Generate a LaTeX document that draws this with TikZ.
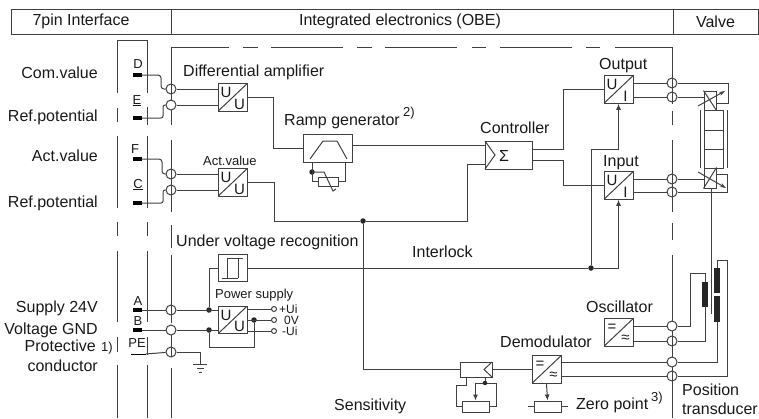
\documentclass[tikz,border=0pt]{standalone}
\usepackage{fontspec}
\setmainfont{Liberation Sans}
\usetikzlibrary{
	positioning,
	arrows.meta
}
\tikzset{
	wire/.style={line width=1pt,color=black!75},
	lab/.style={inner sep=0pt,text=black!90,font=\fontsize{16}{16}\selectfont},
	small/.style={inner sep=0pt,text=black!90,font=\fontsize{13}{13}\selectfont},
	tiny/.style={inner sep=0pt,text=black!90,font=\fontsize{12}{12}\selectfont},
	cell/.style={draw,wire,text=black!90,minimum height=25pt,inner sep=0pt,font=\fontsize{16}{16}\selectfont},
	block/.style={draw,wire,inner sep=0pt},
	conv/.style 2 args={block,minimum width=29pt,minimum height=27.5pt,path picture={
		\draw[wire] (path picture bounding box.south west) -- (path picture bounding box.north east);
		\node[small,font=\fontsize{15}{15}\selectfont] at ([shift={(-6.5,-5)}]path picture bounding box.center) {#1};
		\node[small,font=\fontsize{15}{15}\selectfont] at ([shift={(7,6.5)}]path picture bounding box.center) {#2};
	}},
	pinblock/.style={fill=black,minimum width=9pt,minimum height=4pt,inner sep=0pt},
	ring/.style={draw,wire,circle,minimum size=10pt,inner sep=0pt},
	ringopen/.style={ring,fill=white},
	term/.style={draw,wire,circle,fill=white,minimum size=5pt,inner sep=0pt},
	jdot/.style={fill=black!85,circle,minimum size=5.5pt,inner sep=0pt},
	coil/.style={fill=black!85,draw=black!85,inner sep=0pt,minimum width=5pt},
	sense/.style={-{Latex[length=6pt,width=5pt]}}
}
\begin{document}
\begin{tikzpicture}[x=1pt,y=-1pt]
	\useasboundingbox (0,0) rectangle (759,418);

	\node[cell,minimum width=160pt] (hPin)   at (91,21.5)    {7pin Interface\kern20pt};
	\node[cell,minimum width=502pt] (hObe)   at (422,21.5)   {Integrated electronics (OBE)\kern44pt};
	\node[cell,minimum width=85pt]  (hValve) at (715.5,21.5) {Valve};

	\draw[wire] (117,93) -- (117,40) -- (147,40) -- (147,93);
	\draw[wire] (171,125) -- (171,47) -- (229,47);
	\draw[wire] (615,47) -- (672,47) -- (672,104);
	\foreach \a/\b in {108/122,136/208,222/236,251/322,337/352,365/418}
		\draw[wire] (117,\a) -- (117,\b);
	\foreach \a/\b in {107/125,136/208,222/236,251/322,337/355,365/418}
		\draw[wire] (147,\a) -- (147,\b);
	\foreach \a/\b in {140/212,225/248,255/323,335/357,368/418}
		\draw[wire] (171,\a) -- (171,\b);
	\foreach \a/\b in {111/125,140/212,223/240,255/418}
		\draw[wire] (672,\a) -- (672,\b);
	\foreach \a/\b in {243/258,271/343,357/372,385/457,472/486,500/572,586/600}
		\draw[wire] (\a,47) -- (\b,47);

	\node[pinblock]                     (pD) at (137,75)  {};
	\node[pinblock]                     (pE) at (137,118) {};
	\node[pinblock]                     (pF) at (137,159) {};
	\node[pinblock]                     (pC) at (137,203) {};
	\node[pinblock]                     (pA) at (137,310) {};
	\node[pinblock]                     (pB) at (137,330) {};
	\node[pinblock,minimum width=15pt,minimum height=1pt] (pPE) at (138,354) {};

	\node[ring]     (cD)  at (171,89)  {};
	\node[ringopen] (cE)  at (171,105) {};
	\node[ring]     (cF)  at (171,174) {};
	\node[ring]     (cC)  at (171,190) {};
	\node[ring]     (cA)  at (171,310) {};
	\node[ringopen] (cB)  at (171,330) {};
	\node[ring]     (cPE) at (171,352) {};
	\node[ring]     (cOutA) at (672,83)  {};
	\node[ring]     (cOutB) at (672,97)  {};
	\node[ring]     (cInA)  at (672,179) {};
	\node[ring]     (cInB)  at (672,192) {};
	\node[ringopen] (cOscA) at (672,326) {};
	\node[ring]     (cOscB) at (672,341) {};
	\node[ringopen] (cDemA) at (672,362) {};
	\node[ring]     (cDemB) at (672,376) {};

	\node[conv={U}{U}]   (amp)   at (232.5,97.5)  {};
	\node[conv={U}{U}]   (act)   at (232.5,182.5) {};
	\node[conv={U}{U}]   (power) at (232.5,320)   {};
	\node[conv={U}{I}]   (out)   at (618.5,89.5)  {};
	\node[conv={U}{I}]   (in)    at (618.5,185.5) {};
	\node[conv={=}{≈}]   (osc)   at (618.5,332.5) {};
	\node[conv={=}{≈}]   (demod) at (546.5,369.5) {};
	\node[block,minimum width=29pt,minimum height=27.5pt] (uv)   at (232.5,268)   {};
	\node[block,minimum width=49pt,minimum height=28pt]   (ramp) at (327.5,148)   {};
	\node[block,minimum width=47pt,minimum height=28pt]   (ctrl) at (508.5,155)   {};
	\node[block,minimum width=32pt,minimum height=15pt]   (sens) at (476,369.5)   {};
	\node[block,minimum width=20pt,minimum height=9pt]    (rRamp) at (328,181.5)  {};
	\node[block,minimum width=27pt,minimum height=11pt]   (rSens) at (475.5,406.5) {};
	\node[block,minimum width=27pt,minimum height=11pt]   (rZero) at (547.5,406.5) {};

	\node[jdot] (dRamp)  at (312,172)  {};
	\node[jdot] (dSplit) at (363,221)  {};
	\node[jdot] (dLock)  at (591,268)  {};
	\node[jdot] (dPowA)  at (209,310)  {};
	\node[jdot] (dPowB)  at (209,330)  {};
	\node[jdot] (dOut)   at (254,320)  {};
	\node[jdot,minimum size=4.5pt] (dSens) at (485,383) {};
	\node[term] (oA) at (274,309) {};
	\node[term] (oB) at (274,320) {};
	\node[term] (oC) at (274,331) {};
	\coordinate (gnd) at (200,364);

	\node[block,minimum width=12pt,minimum height=19pt] (solA)  at (710,100.5) {};
	\node[block,minimum width=19pt,minimum height=20pt] (bodyA) at (713.5,120) {};
	\node[block,minimum width=19pt,minimum height=19pt] (bodyB) at (713.5,139.5) {};
	\node[block,minimum width=19pt,minimum height=19pt] (bodyC) at (713.5,158.5) {};
	\node[block,minimum width=12pt,minimum height=20pt] (solB)  at (710,178)   {};
	\node[coil,minimum height=24pt] (coilA) at (705,294)   {};
	\node[coil,minimum height=24pt] (coilB) at (717,280)   {};
	\node[coil,minimum height=25pt] (coilC) at (717,308.5) {};

	\draw[wire,rounded corners=3pt] (pD) -- ++(24,0) -- ++(0,14) -- (cD);
	\draw[wire,rounded corners=2pt] (pE) -- ++(26,0) -- ++(0,-13) -- (cE);
	\draw[wire,rounded corners=3pt] (pF) -- ++(25,0) -- ++(0,15) -- (cF);
	\draw[wire,rounded corners=2pt] (pC) -- ++(26,0) -- ++(0,-13) -- (cC);
	\draw[wire] (pA) -- (cA);
	\draw[wire] (pB) -- (cB);
	\draw[wire] (pPE.east) -- (cPE);
	\draw[wire] (cD)  -- (cD -| amp.west);
	\draw[wire] (cE)  -- (cE -| amp.west);
	\draw[wire] (cF)  -- (cF -| act.west);
	\draw[wire] (cC)  -- (cC -| act.west);
	\draw[wire] (cA)  -- (cA -| power.west);
	\draw[wire] (cB)  -- (cB -| power.west);
	\draw[wire] (cPE) -- ++(29,0) -- (gnd);
	\draw[wire] ([xshift=-7pt]gnd) -- ([xshift=7pt]gnd);
	\draw[wire] ([shift={(-3.5,4)}]gnd) -- ([shift={(3.5,4)}]gnd);
	\draw[wire] ([shift={(-1.5,8)}]gnd) -- ([shift={(1.5,8)}]gnd);

	\draw[wire] (amp.east) -- ++(26,0) |- (ramp.west);
	\draw[wire] ([yshift=3pt]ramp.east) -- ([yshift=10pt]ctrl.west);
	\draw[wire] (act.east) -- ++(27,0) |- (dSplit);
	\draw[wire] (dSplit) -- ++(104,0) |- ([yshift=-9pt]ctrl.west);
	\draw[wire] (dSplit) |- (sens.west);
	\draw[wire] (sens.east) -- (demod.west);
	\draw[wire] ([yshift=6pt]ctrl.east) -- ++(31,0) |- (out.west);
	\draw[wire] ([yshift=-5pt]ctrl.east) -- ++(31,0) |- (in.west);

	\draw[wire] (uv.east) -- (dLock);
	\draw[wire,sense] (dLock) -| (in.south);
	\draw[wire,sense] (dLock) -- ++(0,-119) -| (out.south);
	\draw[wire] (dPowA) |- (uv.west);
	\draw[wire] (dPowB) -- ++(0,17) -| (dOut);
	\draw[wire] (oA -| power.east) -- (oA);
	\draw[wire] (oB -| power.east) -- (oB);
	\draw[wire] (oC -| power.east) -- (oC);

	\draw[wire] (cOutA) -- (cOutA -| out.east);
	\draw[wire] (cOutB) -- (cOutB -| out.east);
	\draw[wire] (cInA)  -- (cInA -| in.east);
	\draw[wire] (cInB)  -- (cInB -| in.east);
	\draw[wire] (cOscA) -- (cOscA -| osc.east);
	\draw[wire] (cOscB) -- (cOscB -| osc.east);
	\draw[wire] (cDemA) -- (cDemA -| demod.east);
	\draw[wire] (cDemB) -- (cDemB -| demod.east);

	\draw[wire] (cOutA) -- ++(56,0) |- ([yshift=-2.5pt]solA.east);
	\draw[wire] (cOutB) -- (cOutB -| solA.west);
	\draw[wire] (cInA)  -- (cInA -| solB.west);
	\draw[wire] (cInB)  -- ++(55,0) |- ([yshift=4pt]solB.east);
	\draw[wire] (cOscA) -- ++(18,0) |- (705,273) -- (coilA.north);
	\draw[wire] (cOscB) -| (coilA.south);
	\draw[wire] (cDemA) -| (coilC.south);
	\draw[wire] (cDemB) -- ++(55,0) |- (717,260) -- (coilB.north);
	\draw[wire] ([xshift=1pt]solB.south) -- ++(0,125);

	\draw[wire] (solA.north west) -- (solA.south east);
	\draw[wire,-{Stealth[length=6pt,width=4pt]}] (698,106) -- (725,91);
	\draw[wire] (solB.south west) -- (solB.north east);
	\draw[wire,-{Stealth[length=6pt,width=4pt]}] (698,172) -- (726,188);
	\draw[wire] (700,110) -- (700,168);
	\draw[wire] (727,110) -- (727,168);

	\draw[wire] (310,159) -- (323,141) -- (337,141) -- (347,159);
	\draw[wire] ([xshift=-15pt]ramp.south) |- (rRamp.west);
	\draw[wire] (rRamp.east) -| ([xshift=17.5pt]ramp.south);
	\draw[wire] (dRamp) -- ++(12,0) -- ++(9,19) -- ++(3,-2);

	\draw[wire] (485,141) -- (495,155) -- (485,169);
	\node[lab] (sigma) at (504,156) {Σ};
	\draw[wire] (492,362) -- (484,369.5) -- (492,377);

	\draw[wire] (227,258) -- (243,258);
	\draw[wire] (222,278) -- (238,278);
	\draw[wire] (227,258) -- (227,278);
	\draw[wire] (238,258) -- (238,278);

	\draw[wire] ([xshift=-10pt]sens.south) -- ++(0,7.5) -- ++(-9.5,0) |- (rSens.west);
	\draw[wire] (dSens) -- ([xshift=9pt]sens.south);
	\draw[wire] (rSens.east) -- ++(7,0) |- (dSens);
	\draw[wire,sense] (dSens) -- ++(-9.5,0) -- (rSens.north -| 475.5,0);
	\draw[wire,sense] (demod.south) -- (rZero.north);
	\draw[wire] (rZero.west) -- ++(-6,0);
	\draw[wire] (rZero.east) -- ++(6,0);

	\node[lab,anchor=base east] (tCom)  at (98,78)  {Com.value};
	\node[lab,anchor=base east] (tRefA) at (98,121) {Ref.potential};
	\node[lab,anchor=base east] (tAct)  at (98,161) {Act.value};
	\node[lab,anchor=base east] (tRefB) at (98,207) {Ref.potential};
	\node[lab,anchor=base east] (tSup)  at (98,312) {Supply 24V};
	\node[lab,anchor=base east] (tGnd)  at (98,334) {Voltage GND};
	\node[lab,anchor=base east] (tPro)  at (96,351) {Protective};
	\node[small,anchor=base west] (tOne) at (101,351) {1)};
	\node[lab,anchor=base east] (tCon)  at (98,371) {conductor};

	\node[small,anchor=base] (tD)  at (138,68)  {D};
	\node[small,anchor=base] (tE)  at (137,104) {\underline{E}};
	\node[small,anchor=base] (tF)  at (135,153) {F};
	\node[small,anchor=base] (tC)  at (138,188) {\underline{C}};
	\node[small,anchor=base] (tA)  at (138,305) {A};
	\node[small,anchor=base] (tB)  at (138,325) {B};
	\node[small,anchor=base] (tPE) at (137,347) {PE};

	\node[lab,anchor=base west] (tDiff)  at (183,76)  {Differential amplifier};
	\node[small,anchor=base west] (tActB) at (203,165) {Act.value};
	\node[lab,anchor=base west] (tRamp)  at (284,125) {Ramp generator};
	\node[small,anchor=base west] (tTwo) at (403,116) {2)};
	\node[lab,anchor=base west] (tCtrl)  at (480,133) {Controller};
	\node[lab,anchor=base west] (tOut)   at (599,69)  {Output};
	\node[lab,anchor=base west] (tIn)    at (603,166) {Input};
	\node[lab,anchor=base west] (tUnder) at (176,246) {Under voltage recognition};
	\node[lab,anchor=base west] (tLock)  at (412,257) {Interlock};
	\node[small,anchor=base west] (tPow) at (215,298) {Power supply};
	\node[tiny,anchor=base west] (tUp)   at (279,313) {+Ui};
	\node[tiny,anchor=base west] (tZv)   at (284,324) {0V};
	\node[tiny,anchor=base west] (tUm)   at (282,335) {-Ui};
	\node[lab,anchor=base west] (tSens)  at (334,410) {Sensitivity};
	\node[lab,anchor=base west] (tOsc)   at (586,312) {Oscillator};
	\node[lab,anchor=base west] (tDem)   at (500,347) {Demodulator};
	\node[lab,anchor=base west] (tZero)  at (576,409) {Zero point};
	\node[small,anchor=base west] (tThr) at (651,401) {3)};
	\node[lab,anchor=base west] (tPos)   at (682,395) {Position};
	\node[lab,anchor=base west] (tTra)   at (682,414) {transducer};
\end{tikzpicture}
\end{document}
